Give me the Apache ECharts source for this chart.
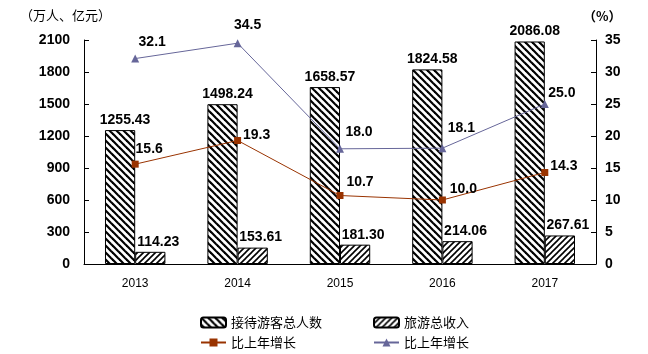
<!DOCTYPE html>
<html>
<head>
<meta charset="utf-8">
<script src="https://cdn.jsdelivr.net/npm/echarts@6/dist/echarts.min.js"></script>
<style>
  html, body { margin: 0; padding: 0; background: #fff; }
  #main { width: 648px; height: 354px; }
</style>
</head>
<body>
<div id="main"></div>
<script>
// 数据
var years = ['2013', '2014', '2015', '2016', '2017'];
var visitors = [1255.43, 1498.24, 1658.57, 1824.58, 2086.08];   // 接待游客总人数（万人）
var income = [114.23, 153.61, 181.30, 214.06, 267.61];          // 旅游总收入（亿元）
var visitorGrowth = [32.1, 34.5, 18.0, 18.1, 25.0];             // 比上年增长（%）
var incomeGrowth = [15.6, 19.3, 10.7, 10.0, 14.3];              // 比上年增长（%）

// 折线标签的偏移（样式）
var incomeLabelOffset = [[14, 0], [19, 10], [20, 2], [21, 5], [19, 9]];
var visitorLabelOffset = [[17, 0], [10, -2], [19, -1], [19, -4], [17, 5]];

// 斜线填充
function hatch(dir, size, lw) {
    var c = document.createElement('canvas');
    c.width = size;
    c.height = size;
    var ctx = c.getContext('2d');
    ctx.fillStyle = '#fff';
    ctx.fillRect(0, 0, size, size);
    ctx.strokeStyle = '#000';
    ctx.lineWidth = lw;
    [-size, 0, size].forEach(function (k) {
        ctx.beginPath();
        if (dir === 'back') {
            ctx.moveTo(k - 1, -1);
            ctx.lineTo(k + size + 1, size + 1);
        } else {
            ctx.moveTo(k + size + 1, -1);
            ctx.lineTo(k - 1, size + 1);
        }
        ctx.stroke();
    });
    return c;
}

var chart = echarts.init(document.getElementById('main'));

var numFont = 'Arial, "Liberation Sans", sans-serif';
var cjkFont = '"Noto Sans CJK SC", sans-serif';

function lineData(vals, offs) {
    return vals.map(function (v, i) {
        return { value: v, label: { offset: offs[i] } };
    });
}

var option = {
    animation: false,
    grid: { left: 84, right: 52, top: 40, bottom: 90 },
    legend: [
        {
            data: ['接待游客总人数', '旅游总收入'],
            left: 195, top: 311,
            itemWidth: 25, itemHeight: 10, itemGap: 51,
            textStyle: { fontFamily: cjkFont, fontSize: 13, color: '#000' }
        },
        {
            data: ['比上年增长', '比上年增长 '],
            left: 195, top: 331,
            itemWidth: 25, itemHeight: 10, itemGap: 77,
            textStyle: { fontFamily: cjkFont, fontSize: 13, color: '#000' },
            formatter: function (n) { return n.trim(); }
        }
    ],
    graphic: [
        { type: 'text', left: 20, top: 9, style: { text: '（万人、亿元）', font: '13px ' + cjkFont, fill: '#000' } },
        { type: 'text', left: 583, top: 10, style: { text: '（%）', font: 'bold 13px ' + cjkFont, fill: '#000' } }
    ],
    xAxis: {
        type: 'category',
        data: years,
        axisLine: { lineStyle: { color: '#000', width: 1 } },
        axisTick: { inside: true, length: 5, lineStyle: { color: '#000' } },
        axisLabel: { color: '#000', fontFamily: numFont, fontSize: 12, margin: 14 }
    },
    yAxis: [
        {
            type: 'value', min: 0, max: 2100, interval: 300,
            axisLine: { show: true, lineStyle: { color: '#000' } },
            axisTick: { show: true, inside: true, length: 5, lineStyle: { color: '#000' } },
            splitLine: { show: false },
            axisLabel: {
                color: '#000', fontFamily: numFont, fontSize: 14, fontWeight: 'bold', margin: 14,
                formatter: function (v) { return String(v); }
            }
        },
        {
            type: 'value', min: 0, max: 35, interval: 5,
            axisLine: { show: true, lineStyle: { color: '#000' } },
            axisTick: { show: true, inside: true, length: 5, lineStyle: { color: '#000' } },
            splitLine: { show: false },
            axisLabel: { color: '#000', fontFamily: numFont, fontSize: 14, fontWeight: 'bold', margin: 9 }
        }
    ],
    series: [
        {
            name: '接待游客总人数',
            type: 'bar',
            data: visitors,
            barGap: '0%',
            barCategoryGap: '41%',
            itemStyle: { color: { image: hatch('back', 7, 2.2), repeat: 'repeat' }, borderColor: '#000', borderWidth: 1 },
            label: {
                show: true, position: 'top', distance: 3, offset: [5, 0],
                color: '#000', fontFamily: numFont, fontSize: 14, fontWeight: 'bold',
                formatter: function (p) { return p.value.toFixed(2); }
            }
        },
        {
            name: '旅游总收入',
            type: 'bar',
            data: income,
            itemStyle: { color: { image: hatch('fwd', 6, 1.6), repeat: 'repeat' }, borderColor: '#000', borderWidth: 1 },
            label: {
                show: true, position: 'top', distance: 3, offset: [8, 0],
                color: '#000', fontFamily: numFont, fontSize: 14, fontWeight: 'bold',
                formatter: function (p) { return p.value.toFixed(2); }
            }
        },
        {
            name: '比上年增长',
            type: 'line',
            yAxisIndex: 1,
            data: lineData(incomeGrowth, incomeLabelOffset),
            symbol: 'rect', symbolSize: 7,
            itemStyle: { color: '#993300' },
            lineStyle: { color: '#993300', width: 1 },
            label: {
                show: true, position: 'top', color: '#000', fontFamily: numFont, fontSize: 14, fontWeight: 'bold',
                formatter: function (p) { return p.value.toFixed(1); }
            }
        },
        {
            name: '比上年增长 ',
            type: 'line',
            yAxisIndex: 1,
            data: lineData(visitorGrowth, visitorLabelOffset),
            symbol: 'triangle', symbolSize: 8,
            itemStyle: { color: '#666699' },
            lineStyle: { color: '#666699', width: 1 },
            label: {
                show: true, position: 'top', color: '#000', fontFamily: numFont, fontSize: 14, fontWeight: 'bold',
                formatter: function (p) { return p.value.toFixed(1); }
            }
        }
    ]
};

chart.setOption(option);
</script>
</body>
</html>
